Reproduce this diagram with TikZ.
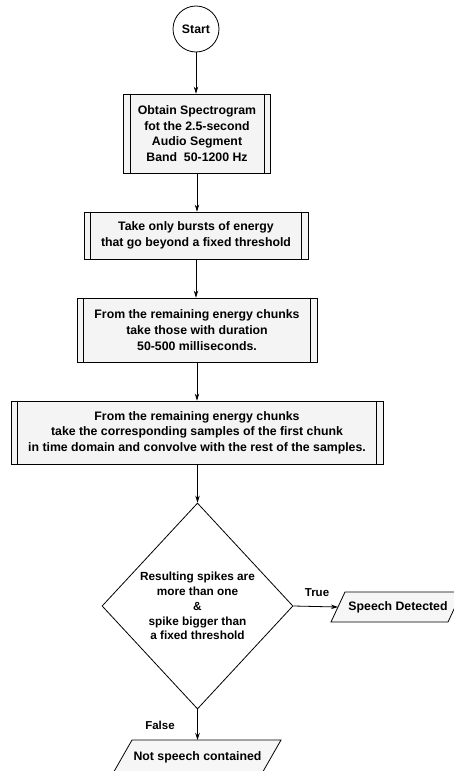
\documentclass[tikz,border=0pt]{standalone}
\usepackage{fontspec}
\setmainfont{Liberation Sans}
\usetikzlibrary{arrows.meta,shapes.geometric}
\begin{document}
\begin{tikzpicture}[x=1pt,y=-1pt,
  txt/.style={font=\bfseries\fontsize{12.3}{15.6}\selectfont, align=center},
  subbox/.style={txt, draw, line width=0.8pt, fill=gray!9, inner sep=0pt, rectangle},
  decision/.style={txt, font=\bfseries\fontsize{11.8}{14.8}\selectfont, draw, line width=0.8pt, diamond, aspect=0.93, inner sep=0pt},
  iobox/.style={draw, line width=0.8pt, fill=gray!7},
  arr/.style={line width=0.8pt, -{Stealth[length=7pt,width=4.5pt]}},
  lbl/.style={font=\bfseries\fontsize{11.5}{13}\selectfont}]
\useasboundingbox (0,0) rectangle (454,771);
\clip (0,0) rectangle (454,771);
\fill[white] (0,0) rectangle (454,771);

\node[draw, circle, line width=0.8pt, minimum size=46pt, inner sep=0pt, txt] (start) at (196,29) {Start};

\node[subbox, minimum width=147pt, minimum height=79pt] (b1) at (197,133.5)
  {Obtain Spectrogram\\fot the 2.5-second\\Audio Segment\\Band\ \ 50-1200 Hz};
\node[subbox, minimum width=224pt, minimum height=47pt] (b2) at (196,235.5)
  {Take only bursts of energy\\that go beyond a fixed threshold};
\node[subbox, minimum width=240pt, minimum height=64pt] (b3) at (197,330)
  {From the remaining energy chunks\\take those with duration\\50-500 milliseconds.};
\node[subbox, minimum width=372pt, minimum height=63pt] (b4) at (197,432.5)
  {From the remaining energy chunks\\take the corresponding samples of the first chunk\\in time domain and convolve with the rest of the samples.};

\foreach \b in {b1,b2,b3,b4}{
  \draw[line width=0.8pt] ([xshift=7pt]\b.north west) -- ([xshift=7pt]\b.south west);
  \draw[line width=0.8pt] ([xshift=-7pt]\b.north east) -- ([xshift=-7pt]\b.south east);
}

\node[decision, minimum width=191pt, minimum height=206pt] (dec) at (197.5,606)
  {Resulting spikes are\\more than one\\\&\\spike bigger than\\a fixed threshold};

% Speech Detected parallelogram
\coordinate (sdin) at (338,607);
\filldraw[iobox] (345,592) -- (462,592) -- (448,622) -- (331,622) -- cycle;
\node[txt, inner sep=0pt] (sd) at (398,607) {Speech Detected};

% Not speech contained parallelogram
\coordinate (nsin) at (197.5,740);
\filldraw[iobox] (132,740) -- (281,740) -- (261,775) -- (112,775) -- cycle;
\node[txt, inner sep=0pt] (ns) at (197.5,757) {Not speech contained};

\draw[arr] (start) -- (start |- b1.north);
\draw[arr] (b1) -- (b1 |- b2.north);
\draw[arr] (b2) -- (b2 |- b3.north);
\draw[arr] (b3) -- (b3 |- b4.north);
\draw[arr] (b4.south -| dec) -- (dec.north);
\draw[arr] (dec.east) -- (sdin);
\draw[arr] (dec.south) -- (nsin);

\node[lbl] (ltrue) at (317,593) {True};
\node[lbl] (lfalse) at (160,725) {False};
\end{tikzpicture}
\end{document}
